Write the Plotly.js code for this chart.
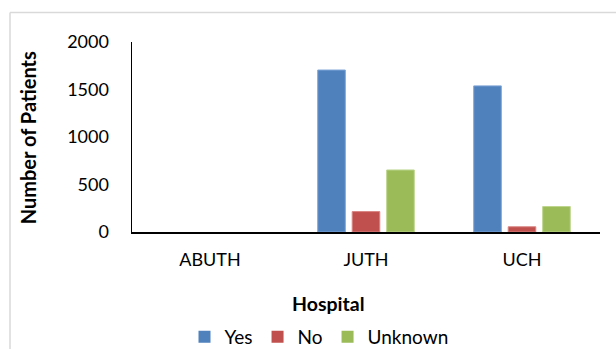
<!DOCTYPE html>
<html>
<head>
<meta charset="utf-8">
<script src="https://cdn.plot.ly/plotly-3.0.1.min.js"></script>
<style>html,body{margin:0;padding:0;background:#fff;}#chart{width:616px;height:349px;}</style>
</head>
<body>
<div id="chart"></div>
<script>
var hospitals = ["ABUTH", "JUTH", "UCH"];
var yesValues = [0, 1705, 1538];
var noValues = [0, 215, 55];
var unknownValues = [0, 653, 268];
var seriesNames = ["Yes", "No", "Unknown"];
var yTickValues = [0, 500, 1000, 1500, 2000];

var FONT = "Lato, 'Open Sans', sans-serif";
var W = 616, H = 349;
var L = 132, R = 600, T = 42, B = 232.5;
function px(x) { return (x - L) / (R - L); }
function py(y) { return (B - y) / (B - T); }

var colors = ["#4F81BD", "#C0504D", "#9BBB59"];
var edges = ["#7fa6d6", "#d98583", "#bcd58c"];
var values = [yesValues, noValues, unknownValues];
var traces = values.map(function (v, i) {
  return {
    type: "bar", x: hospitals, y: v, name: seriesNames[i],
    marker: { color: colors[i], line: { color: edges[i], width: v.map(function (d) { return d > 0 ? 1 : 0; }) } },
    hoverinfo: "x+y+name"
  };
});

var layout = {
  width: W, height: H,
  margin: { l: L, r: W - R, t: T, b: H - B, autoexpand: false },
  paper_bgcolor: "#ffffff", plot_bgcolor: "#ffffff",
  font: { family: FONT, size: 18, color: "#000000" },
  barmode: "group", bargap: 0.337, bargroupgap: 0.2,
  showlegend: true,
  legend: {
    orientation: "h", xref: "container", yref: "container",
    x: 319 / W, xanchor: "center", y: (H - 337) / H, yanchor: "middle",
    font: { family: FONT, size: 19, color: "#000" }, traceorder: "normal",
    itemwidth: 30, bgcolor: "rgba(0,0,0,0)"
  },
  xaxis: {
    type: "category", showgrid: false, zeroline: false, automargin: false,
    showline: true, linecolor: "#000", linewidth: 2,
    ticks: "", ticklabelstandoff: 10,
    tickfont: { family: FONT, size: 18, color: "#000" },
    title: { text: "" }
  },
  yaxis: {
    range: [0, 2000], tickvals: yTickValues, ticktext: yTickValues.map(String),
    showgrid: false, zeroline: false, automargin: false,
    showline: true, linecolor: "#000", linewidth: 1.5,
    ticks: "", ticklabelstandoff: 18,
    tickfont: { family: FONT, size: 18, color: "#000" },
    title: { text: "" }
  },
  annotations: [
    { text: "<b>Hospital</b>", xref: "paper", yref: "paper", x: px(328), y: py(304.5),
      xanchor: "center", yanchor: "middle", showarrow: false,
      font: { family: FONT, size: 19.5, color: "#000" } },
    { text: "<b>Number of Patients</b>", xref: "paper", yref: "paper", x: px(27.5), y: py(138),
      xanchor: "center", yanchor: "middle", textangle: -90, showarrow: false,
      font: { family: FONT, size: 20, color: "#000" } }
  ],
  shapes: [
    { type: "line", xref: "paper", yref: "paper", x0: px(10), x1: px(620), y0: py(12.5), y1: py(12.5),
      line: { color: "#d9d9d9", width: 1.5 } },
    { type: "line", xref: "paper", yref: "paper", x0: px(10), x1: px(10), y0: py(12.5), y1: py(360),
      line: { color: "#d9d9d9", width: 1.5 } }
  ]
};

Plotly.newPlot("chart", traces, layout, { displayModeBar: false, staticPlot: true });
</script>
</body>
</html>
